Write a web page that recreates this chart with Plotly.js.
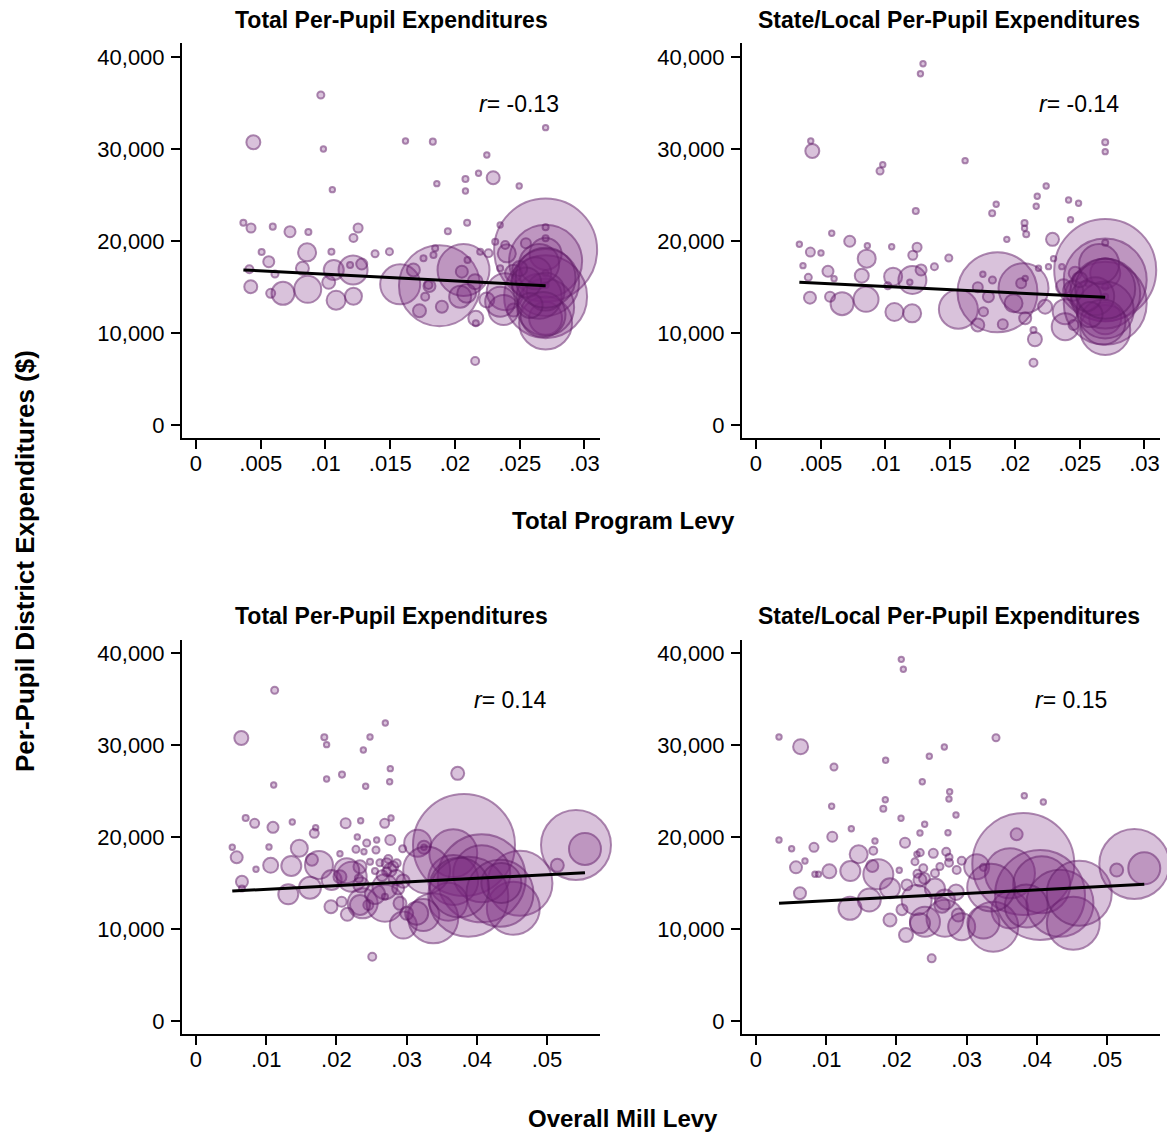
<!DOCTYPE html>
<html>
<head>
<meta charset="utf-8">
<script src="https://cdn.plot.ly/plotly-3.0.1.min.js"></script>
<style>html,body{margin:0;padding:0;background:#fff;}#chart{width:1167px;height:1134px;}</style>
</head>
<body>
<div id="chart"></div>
<script>
// ---------------- DATA ----------------
const panelTitles = ["Total Per-Pupil Expenditures", "State/Local Per-Pupil Expenditures"];
const xTitles = ["Total Program Levy", "Overall Mill Levy"];
const yTitle = "Per-Pupil District Expenditures ($)";

const yTickVals = [0, 10000, 20000, 30000, 40000];
const yTickText = ["0", "10,000", "20,000", "30,000", "40,000"];
const xTickValsTop = [0, 0.005, 0.01, 0.015, 0.02, 0.025, 0.03];
const xTickTextTop = ["0", ".005", ".01", ".015", ".02", ".025", ".03"];
const xTickValsBot = [0, 0.01, 0.02, 0.03, 0.04, 0.05];
const xTickTextBot = ["0", ".01", ".02", ".03", ".04", ".05"];

const rValues = ["-0.13", "-0.14", "0.14", "0.15"];
const fitSlope = [-73420, -69390, 39810, 39920];
const fitIntercept = [17124, 15746, 13918, 12657];

// Top-left: Total Program Levy vs Total Per-Pupil Expenditures (enrollment, thousands)
const tlLevy = [0.00964,0.00443,0.00984,0.01618,0.01829,0.027,0.02246,0.02182,0.02295,0.02081,0.0186,0.02081,0.02496,0.01053,0.02094,0.01945,0.02349,0.00366,0.00425,0.00593,0.00726,0.00868,0.01252,0.01216,0.00507,0.00858,0.01046,0.01383,0.01494,0.00562,0.00412,0.0061,0.00822,0.01064,0.01213,0.0128,0.0119,0.00423,0.00577,0.00672,0.00863,0.01025,0.01082,0.01216,0.01577,0.0188,0.02066,0.01679,0.01757,0.01834,0.01847,0.01803,0.0177,0.01726,0.01899,0.02053,0.02097,0.0204,0.02156,0.02195,0.02259,0.02246,0.02161,0.02161,0.02156,0.027,0.027,0.027,0.027,0.027,0.027,0.027,0.027,0.027,0.027,0.024,0.02452,0.02388,0.02452,0.02375,0.02349,0.02311,0.02388,0.02548,0.01795,0.0209,0.027,0.027,0.0265,0.0262,0.027,0.02349,0.0265,0.0268,0.0255,0.0258,0.025,0.027];
const tlTotal = [35870,30730,30000,30870,30800,32320,29350,27360,26880,26740,26230,25430,25980,25580,21990,21050,21740,21990,21410,21560,21010,20980,21410,20330,18800,18770,18840,18620,18840,17750,16920,16410,17030,16850,16850,17500,17390,15030,14310,14310,14750,15510,13550,13990,15290,15140,16850,16850,18120,18480,19200,15110,13950,12420,12860,16670,17930,13950,15580,18840,18660,13590,11600,11050,6960,19020,17800,18590,13950,11600,11090,21490,20290,16490,15220,18660,16490,14490,12500,12500,17030,19920,19570,19750,15220,14300,15500,12800,14000,16500,14500,13400,17500,12000,15500,13000,17000,16000];
const tlEnroll = [0.42,1.66,0.21,0.21,0.31,0.21,0.21,0.21,1.43,0.31,0.21,0.21,0.21,0.21,0.31,0.31,0.21,0.31,0.69,0.31,1.03,0.31,0.69,0.54,0.31,2.75,0.31,0.42,0.42,1.03,0.54,0.42,1.43,3.39,7.13,1.03,0.31,1.43,0.69,4.49,6.18,1.43,3.06,2.45,13.6,55.6,22.9,1.43,0.31,0.31,0.31,1.22,0.54,1.43,1.22,1.22,0.31,4.1,1.91,0.31,0.54,1.91,1.91,0.31,0.54,90,45.2,8.69,58.4,9.24,23.8,0.31,0.31,0.31,0.31,2.75,2.45,11.6,1.43,7.63,0.31,0.31,0.54,0.85,0.54,3.0,38.1,27.6,17.2,8.69,12.2,7.63,13.6,17.2,7.63,5.3,1.91,30.5];

// Top-right: Total Program Levy vs State/Local Per-Pupil Expenditures
const trLevy = [0.0129,0.0127,0.00423,0.00435,0.00979,0.00958,0.01615,0.02697,0.02697,0.02241,0.02172,0.02164,0.02414,0.02491,0.01855,0.01824,0.01234,0.02429,0.02074,0.02074,0.02087,0.01937,0.0229,0.00335,0.00585,0.0042,0.00502,0.00724,0.0086,0.01048,0.01244,0.01211,0.00855,0.01489,0.01378,0.00363,0.00556,0.00404,0.00603,0.00817,0.01059,0.01208,0.01275,0.01018,0.01188,0.00417,0.00572,0.00665,0.0085,0.01069,0.01206,0.01563,0.01865,0.02066,0.01752,0.01826,0.01713,0.01795,0.01757,0.01713,0.01906,0.02048,0.02079,0.01989,0.02079,0.02143,0.02154,0.02143,0.02182,0.02259,0.02298,0.02362,0.02233,0.02465,0.02375,0.02388,0.02388,0.02452,0.02568,0.02697,0.02697,0.02697,0.02697,0.02697,0.02697,0.02697,0.02697,0.02697,0.02697,0.02697,0.0262,0.0245,0.0265,0.0268,0.0255,0.0258,0.025,0.02697];
const trStateLocal = [39270,38180,30870,29780,28300,27610,28730,30730,29710,25980,24860,23770,24460,24100,23990,23010,23260,22320,21960,21380,20730,20180,20180,19640,20840,18800,18700,19970,19490,19380,19320,18450,18080,18150,17210,17320,16710,16050,15900,16230,16120,15760,16850,15140,15510,13840,13950,13190,13660,12280,12140,12580,14420,14860,16380,15760,14970,13950,12320,10870,10940,15400,15940,13230,11600,10330,9320,6770,17030,17210,18080,17210,12860,16490,15030,12320,10690,10870,15400,16850,15760,16490,11600,13230,10330,19820,15030,13950,14300,12500,14000,14600,17500,11200,14000,12000,15800,14800];
const trEnroll = [0.21,0.21,0.21,1.66,0.21,0.42,0.21,0.31,0.21,0.21,0.21,0.21,0.21,0.21,0.21,0.31,0.31,0.21,0.31,0.21,0.31,0.21,1.43,0.21,0.21,0.69,0.21,1.03,0.21,0.21,0.69,0.69,2.75,0.42,0.42,0.21,1.03,0.42,0.21,1.66,2.75,6.65,1.03,0.42,0.21,1.22,0.85,4.49,5.3,2.75,2.75,12.9,54.3,21.2,0.21,0.42,0.85,1.03,0.69,1.43,0.85,0.85,0.21,2.75,1.22,0.31,1.66,0.54,0.21,0.21,0.21,0.21,1.66,1.43,1.91,5.3,6.18,0.85,0.42,88.3,58.4,7.63,8.69,58.4,21.2,0.31,0.31,0.31,41.6,27.6,12.2,3.4,13.6,17.2,7.63,5.3,1.91,30.5];

// Bottom-left: Overall Mill Levy vs Total Per-Pupil Expenditures
const blMill = [0.01121,0.00646,0.02697,0.01828,0.01861,0.02479,0.02384,0.02768,0.02759,0.0208,0.01861,0.02417,0.01107,0.03728,0.00708,0.00836,0.01097,0.01372,0.01705,0.01685,0.02132,0.02346,0.02778,0.02688,0.02768,0.02298,0.02432,0.02574,0.02279,0.02393,0.02564,0.02944,0.00517,0.0058,0.0104,0.01472,0.02051,0.00855,0.01064,0.01358,0.01652,0.01752,0.00655,0.00655,0.01315,0.01624,0.01932,0.01923,0.02075,0.02156,0.02218,0.02336,0.02375,0.02455,0.02692,0.02692,0.02764,0.02906,0.02953,0.02511,0.03158,0.03248,0.03248,0.03818,0.03665,0.05413,0.05541,0.05147,0.04615,0.0452,0.0407,0.0407,0.03665,0.03594,0.0338,0.03238,0.03286,0.03879,0.0433,0.0435,0.0375,0.0255,0.0235,0.0285,0.0262,0.0274,0.0281,0.0255,0.0232,0.0288,0.02479,0.02716,0.02859,0.02716,0.02051,0.02336,0.03001,0.03144,0.02692,0.02147,0.0265,0.0295];
const blTotal = [35950,30760,32390,30840,30040,30870,29460,27430,26010,26780,26300,25510,25650,26920,22070,21490,21050,21630,21010,20400,21490,21770,22070,21490,19670,20000,19350,19670,18660,18400,18590,18730,18880,17790,18910,18770,18180,16490,16920,16850,17530,16960,15140,14400,13770,14490,15330,12420,12970,11600,15680,16770,12790,12610,12790,14600,16410,12790,10430,6990,19320,18880,18880,19130,18230,19130,18700,16920,14970,12250,15510,16000,15330,12970,11160,11520,16410,13510,13880,15000,14500,13800,14800,15600,17200,17600,16800,16300,15500,14400,17320,17140,17140,16230,15680,12610,11710,11710,13510,16340,15800,15200];
const blEnroll = [0.42,1.66,0.21,0.31,0.21,0.21,0.21,0.21,0.21,0.31,0.21,0.21,0.21,1.43,0.31,0.69,1.03,0.21,0.21,0.69,0.85,0.21,0.21,0.69,0.85,0.21,0.42,0.21,0.42,0.21,0.42,0.42,0.21,1.22,0.21,2.45,0.21,0.21,1.91,3.39,1.22,6.65,1.22,0.31,3.39,4.1,3.39,1.43,0.85,1.43,7.63,1.43,7.63,0.85,11.6,5.3,1.43,1.43,6.18,0.54,6.18,1.43,0.21,88.3,19.5,41.6,8.69,1.43,35.8,23.8,65.7,27.6,21.2,12.2,21.2,8.69,18.7,54.3,38.1,13.6,30,3.4,2.0,2.0,0.42,0.54,0.85,0.31,0.54,1.22,0.31,0.85,0.54,0.69,1.43,3.39,1.43,4.49,0.31,5.3,1.0,1.5];

// Bottom-right: Overall Mill Levy vs State/Local Per-Pupil Expenditures
const brMill = [0.0207,0.02099,0.00328,0.00636,0.03419,0.02683,0.02469,0.01847,0.01111,0.02369,0.02759,0.02749,0.01842,0.01814,0.01078,0.03822,0.04093,0.02066,0.02849,0.02403,0.02336,0.00328,0.01358,0.01087,0.01695,0.02123,0.02735,0.00508,0.00826,0.01463,0.01671,0.02293,0.0234,0.0271,0.00698,0.0057,0.0084,0.0089,0.01045,0.01344,0.01657,0.01743,0.02041,0.00627,0.01339,0.01614,0.01909,0.01909,0.02137,0.0208,0.02289,0.02407,0.02503,0.02692,0.02692,0.02882,0.0293,0.03144,0.0324,0.03713,0.03808,0.03618,0.03618,0.0338,0.0324,0.04046,0.0407,0.0433,0.0452,0.04605,0.05389,0.05531,0.05138,0.0385,0.0335,0.0255,0.0285,0.0262,0.024,0.0275,0.0275,0.023,0.02526,0.02265,0.02383,0.0255,0.02859,0.0293,0.02336,0.02336,0.0265,0.0215];
const brStateLocal = [39310,38230,30870,29820,30790,29780,28770,28340,27610,26010,24920,24130,24050,23080,23340,24490,23800,22030,22390,21380,20430,19670,20900,20030,19570,19380,20470,18730,18880,18120,18510,18120,18300,18400,17390,16700,15950,15950,16270,16300,16850,15950,16380,13880,12250,13150,14420,10980,9350,12100,13150,10790,6810,11160,13200,11520,10250,16770,16700,20290,17070,16050,12070,10250,10700,13700,14800,12790,10620,13880,17070,16600,16410,12500,14500,14400,14000,16800,15500,17200,17800,16000,18230,17320,16600,16060,16410,17420,15330,10620,12600,14800];
const brEnroll = [0.21,0.21,0.21,1.91,0.42,0.21,0.21,0.21,0.42,0.21,0.21,0.21,0.21,0.31,0.21,0.21,0.21,0.21,0.21,0.21,0.21,0.21,0.21,0.85,0.21,0.85,0.21,0.21,0.69,2.75,0.54,0.21,0.42,0.54,0.21,1.22,0.21,0.21,1.66,3.39,1.22,7.63,0.21,1.22,4.49,4.49,3.39,1.43,1.66,1.03,7.63,7.63,0.54,11.6,3.39,1.43,6.18,5.3,0.42,1.22,88.3,21.2,11.6,21.2,8.69,68.7,27.6,38.1,23.8,35.8,41.6,8.69,1.43,15.7,19.5,3.4,2.0,0.42,1.0,0.54,0.42,0.54,0.69,0.42,0.54,0.54,0.54,0.54,1.43,3.39,2.0,1.0];

// ---------------- CHART ----------------
const W = 1167, H = 1134;
const FONT = "Liberation Sans, Arial, Helvetica, sans-serif";
const fillCol = "rgba(122,40,128,0.40)";
const lineCol = "rgba(96,26,102,0.74)";
const maxEnroll = 90, maxDiam = 103;
const sizeRef = 2 * maxEnroll / (maxDiam * maxDiam);

function bubbles(x, y, s, xa, ya) {
  return {
    type: "scatter", mode: "markers", x: x, y: y, xaxis: xa, yaxis: ya,
    cliponaxis: false, hoverinfo: "skip",
    marker: { size: s, sizemode: "area", sizeref: sizeRef, sizemin: 2.7,
      color: fillCol, line: { color: lineCol, width: 2 } }
  };
}
function fit(x, k, xa, ya) {
  const lo = Math.min.apply(null, x), hi = Math.max.apply(null, x);
  return {
    type: "scatter", mode: "lines", x: [lo, hi],
    y: [fitIntercept[k] + fitSlope[k] * lo, fitIntercept[k] + fitSlope[k] * hi],
    xaxis: xa, yaxis: ya, hoverinfo: "skip", cliponaxis: false,
    line: { color: "black", width: 3 }
  };
}

const data = [
  bubbles(tlLevy, tlTotal, tlEnroll, "x", "y"), fit(tlLevy, 0, "x", "y"),
  bubbles(trLevy, trStateLocal, trEnroll, "x2", "y2"), fit(trLevy, 1, "x2", "y2"),
  bubbles(blMill, blTotal, blEnroll, "x3", "y3"), fit(blMill, 2, "x3", "y3"),
  bubbles(brMill, brStateLocal, brEnroll, "x4", "y4"), fit(brMill, 3, "x4", "y4")
];

const axBase = {
  showline: true, linecolor: "black", linewidth: 2,
  ticks: "outside", ticklen: 9, tickwidth: 2, tickcolor: "black",
  showgrid: false, zeroline: false, fixedrange: true,
  tickfont: { family: FONT, size: 22, color: "black" }
};
const colL = [182 / W, 600 / W], colR = [742 / W, 1160 / W];
const rowT = [1 - 438 / H, 1 - 43 / H], rowB = [1 - 1034 / H, 1 - 640 / H];
const xTopRange = [-0.00108, 0.0312], xBotRange = [-0.00199, 0.05755];
const yTopRange = [-1413, 41520], yBotRange = [-1413, 41413];

function xa(domain, range, anchor, vals, text) {
  return Object.assign({}, axBase, { domain: domain, range: range, anchor: anchor,
    tickmode: "array", tickvals: vals, ticktext: text, ticklabelstandoff: -4 });
}
function ya(domain, range, anchor) {
  return Object.assign({}, axBase, { domain: domain, range: range, anchor: anchor,
    tickmode: "array", tickvals: yTickVals, ticktext: yTickText, ticklabelstandoff: 2 });
}

const ann = [];
function txt(x, y, t, size, opts) {
  ann.push(Object.assign({ xref: "paper", yref: "paper", x: x / W, y: 1 - y / H, text: t,
    xanchor: "center", yanchor: "middle", showarrow: false,
    font: { family: FONT, size: size, color: "black" } }, opts || {}));
}
txt(391, 20, "<b>" + panelTitles[0] + "</b>", 23);
txt(949, 20, "<b>" + panelTitles[1] + "</b>", 23);
txt(391, 616, "<b>" + panelTitles[0] + "</b>", 23);
txt(949, 616, "<b>" + panelTitles[1] + "</b>", 23);
txt(623, 521, "<b>" + xTitles[0] + "</b>", 24);
txt(623, 1118, "<b>" + xTitles[1] + "</b>", 24);
txt(25, 561, "<b>" + yTitle + "</b>", 26, { textangle: -90 });
txt(561, 104, "<i>r</i>= " + rValues[0], 23, { xanchor: "right" });
txt(1121, 104, "<i>r</i>= " + rValues[1], 23, { xanchor: "right" });
txt(548, 700, "<i>r</i>= " + rValues[2], 23, { xanchor: "right" });
txt(1109, 700, "<i>r</i>= " + rValues[3], 23, { xanchor: "right" });

const layout = {
  width: W, height: H, margin: { l: 0, r: 0, t: 0, b: 0 },
  paper_bgcolor: "white", plot_bgcolor: "white", showlegend: false,
  font: { family: FONT, color: "black" },
  xaxis: xa(colL, xTopRange, "y", xTickValsTop, xTickTextTop),
  yaxis: ya(rowT, yTopRange, "x"),
  xaxis2: xa(colR, xTopRange, "y2", xTickValsTop, xTickTextTop),
  yaxis2: ya(rowT, yTopRange, "x2"),
  xaxis3: xa(colL, xBotRange, "y3", xTickValsBot, xTickTextBot),
  yaxis3: ya(rowB, yBotRange, "x3"),
  xaxis4: xa(colR, xBotRange, "y4", xTickValsBot, xTickTextBot),
  yaxis4: ya(rowB, yBotRange, "x4"),
  annotations: ann
};

Plotly.newPlot("chart", data, layout, { staticPlot: true, displayModeBar: false });
</script>
</body>
</html>
